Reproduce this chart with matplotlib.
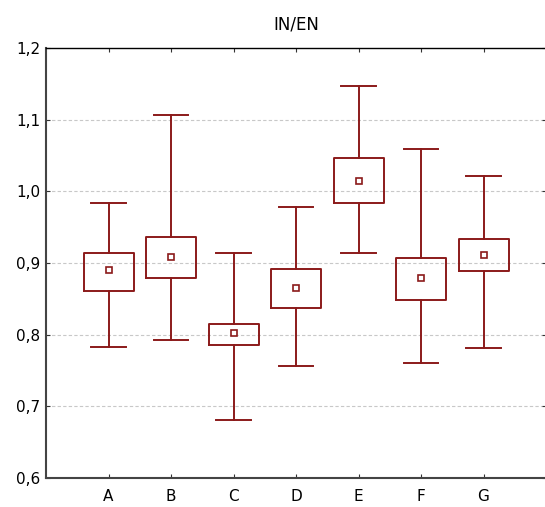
import matplotlib
matplotlib.use("Agg")
import matplotlib.pyplot as plt

categories = ["A", "B", "C", "D", "E", "F", "G"]
whisker_low = [0.783, 0.792, 0.681, 0.756, 0.914, 0.761, 0.782]
box_low = [0.861, 0.879, 0.785, 0.837, 0.984, 0.848, 0.889]
center = [0.890, 0.909, 0.802, 0.865, 1.015, 0.879, 0.911]
box_high = [0.914, 0.936, 0.815, 0.892, 1.047, 0.907, 0.933]
whisker_high = [0.984, 1.106, 0.914, 0.978, 1.147, 1.059, 1.021]

color = "#8b1a1a"

fig = plt.figure(figsize=(5.45, 5.07), dpi=100)
ax = fig.add_axes([46/545, 29/507, 500/545, 430/507])

stats = []
for i, c in enumerate(categories):
    stats.append(dict(label=c, med=center[i], mean=center[i], q1=box_low[i], q3=box_high[i],
                      whislo=whisker_low[i], whishi=whisker_high[i], fliers=[]))

ax.bxp(stats, positions=range(1, len(categories) + 1), widths=0.8, capwidths=0.55,
       showmeans=True, showfliers=False, patch_artist=False,
       boxprops=dict(color=color, linewidth=1.4),
       whiskerprops=dict(color=color, linewidth=1.4),
       capprops=dict(color=color, linewidth=1.4),
       medianprops=dict(linewidth=0, alpha=0),
       meanprops=dict(marker="s", markersize=4.5, markerfacecolor="white",
                      markeredgecolor=color, markeredgewidth=1.2))

ax.set_xlim(0, 8)
ax.set_ylim(0.6, 1.2)
ax.set_xticks(range(1, 8))
ax.set_xticklabels(categories, fontsize=11)
yt = [0.6, 0.7, 0.8, 0.9, 1.0, 1.1, 1.2]
ax.set_yticks(yt)
ax.set_yticklabels([f"{v:.1f}".replace(".", ",") for v in yt], fontsize=11)
ax.tick_params(direction="in", top=True, right=True, length=3, color="#333333")
ax.tick_params(axis="x", pad=8)
ax.tick_params(axis="y", pad=4)
for v in [0.7, 0.8, 0.9, 1.0, 1.1]:
    ax.axhline(v, color="#c8c8c8", linestyle=(0, (3, 2)), linewidth=0.8, zorder=0)
ax.spines["left"].set_linewidth(1.5)
ax.spines["bottom"].set_linewidth(1.5)
ax.spines["left"].set_color("#444444")
ax.spines["bottom"].set_color("#444444")
ax.spines["top"].set_linewidth(1.0)
ax.spines["right"].set_visible(False)
ax.set_title("IN/EN", fontsize=12, pad=13)

fig.savefig("out.png", dpi=100)
